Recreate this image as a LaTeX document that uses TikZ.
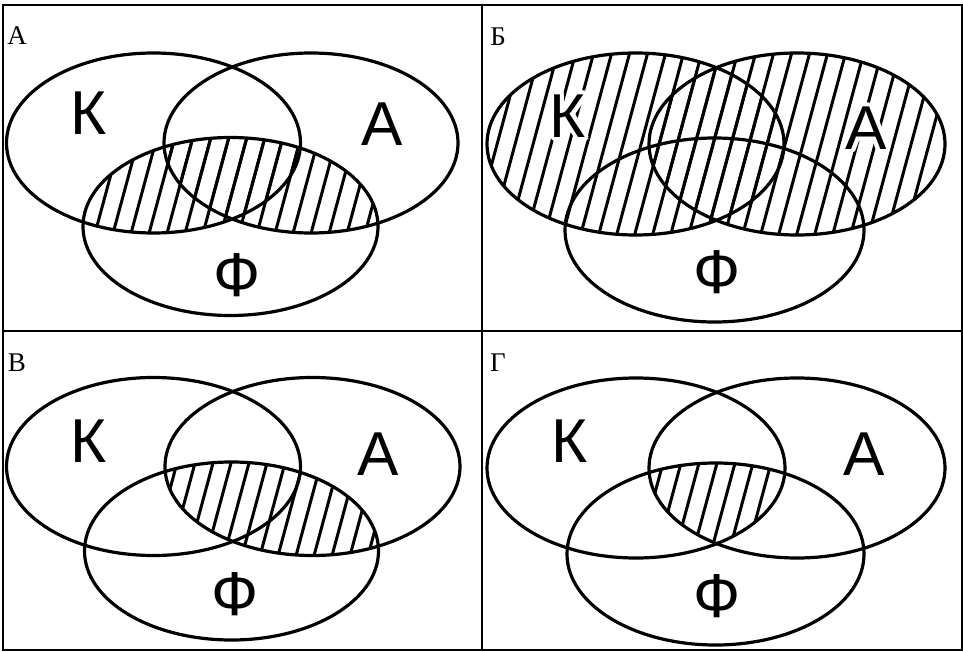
\documentclass[tikz,border=0pt]{standalone}
\usepackage{fontspec}
\setmainfont{Liberation Serif}
\newfontfamily\lettersans{Liberation Sans}
\tikzset{
  frameline/.style={line width=2pt, black},
  vennline/.style={line width=3.2pt, black},
  hatchline/.style={line width=3pt, black},
  setletter/.style={font=\lettersans\fontsize{62}{62}\selectfont, inner sep=0pt, text height=45pt, text depth=0pt, anchor=center},
  panellabel/.style={font=\fontsize{27}{27}\selectfont, inner sep=0pt, text height=18pt, text depth=0pt, anchor=center},
}
\newcommand\hatchfill{\foreach \i in {-12,...,54} \draw[hatchline] ({\i*18},652) -- ({\i*18+176},0);}
\newcommand\vennoutline{\draw[vennline] \EK; \draw[vennline] \EA; \draw[vennline] \EF;}
\begin{document}
\begin{tikzpicture}[x=1pt,y=-1pt]
\useasboundingbox (0,0) rectangle (963,652);
\fill[white] (0,0) rectangle (963,652);

% ---------- Panel A : F and (K or A) ----------
\def\EK{(153.5,143) ellipse [x radius=147pt,y radius=90pt]}
\def\EA{(311,143) ellipse [x radius=147pt,y radius=90pt]}
\def\EF{(230.5,226.5) ellipse [x radius=147.5pt,y radius=89pt]}
\begin{scope}
  \clip \EF;
  \begin{scope}\clip \EK; \hatchfill \end{scope}
  \begin{scope}\clip \EA; \hatchfill \end{scope}
\end{scope}
\vennoutline
\node[setletter] (a-k) at (89,112.5) {К};
\node[setletter] (a-a) at (382,123.5) {А};
\node[setletter] (a-f) at (237,274) {Ф};
\node[panellabel] (lab-a) at (17,36) {А};

% ---------- Panel B : K or A ----------
\def\EK{(635.5,144) ellipse [x radius=148.5pt,y radius=91pt]}
\def\EA{(797,144) ellipse [x radius=148pt,y radius=91pt]}
\def\EF{(714.5,230) ellipse [x radius=149.5pt,y radius=92pt]}
\begin{scope}\clip \EK; \hatchfill \end{scope}
\begin{scope}\clip \EA; \hatchfill \end{scope}
\foreach \a in {0,22.5,...,337.5} {
  \node[setletter,text=white,shift={(\a:4pt)}] (b-kh\a) at (568,115) {К};
  \node[setletter,text=white,shift={(\a:4pt)}] (b-ah\a) at (866,127.5) {А};
}
\vennoutline
\node[setletter] (b-k) at (568,115) {К};
\node[setletter] (b-a) at (866,127.5) {А};
\node[setletter] (b-f) at (717.5,270.5) {Ф};
\node[panellabel] (lab-b) at (498,37) {Б};

% ---------- Panel V : A and F ----------
\def\EK{(153.5,466.5) ellipse [x radius=147pt,y radius=89pt]}
\def\EA{(312.5,466.5) ellipse [x radius=147.5pt,y radius=89pt]}
\def\EF{(231.5,551) ellipse [x radius=147pt,y radius=89pt]}
\begin{scope}
  \clip \EF;
  \clip \EA;
  \hatchfill
\end{scope}
\vennoutline
\node[setletter] (v-k) at (88.5,440) {К};
\node[setletter] (v-a) at (378,452.5) {А};
\node[setletter] (v-f) at (235,592.5) {Ф};
\node[panellabel] (lab-v) at (17,362) {В};

% ---------- Panel G : K and A and F ----------
\def\EK{(636,468) ellipse [x radius=149pt,y radius=90pt]}
\def\EA{(797,468) ellipse [x radius=148pt,y radius=90pt]}
\def\EF{(715.5,554) ellipse [x radius=148.5pt,y radius=91pt]}
\begin{scope}
  \clip \EF;
  \clip \EA;
  \clip \EK;
  \hatchfill
\end{scope}
\vennoutline
\node[setletter] (g-k) at (569.5,440) {К};
\node[setletter] (g-a) at (864.5,453) {А};
\node[setletter] (g-f) at (717.5,595) {Ф};
\node[panellabel] (lab-g) at (498,362) {Г};

% ---------- frame ----------
\draw[frameline] (3,5) rectangle (962,650);
\draw[frameline] (482,5) -- (482,650);
\draw[frameline] (3,331) -- (962,331);
\end{tikzpicture}
\end{document}
